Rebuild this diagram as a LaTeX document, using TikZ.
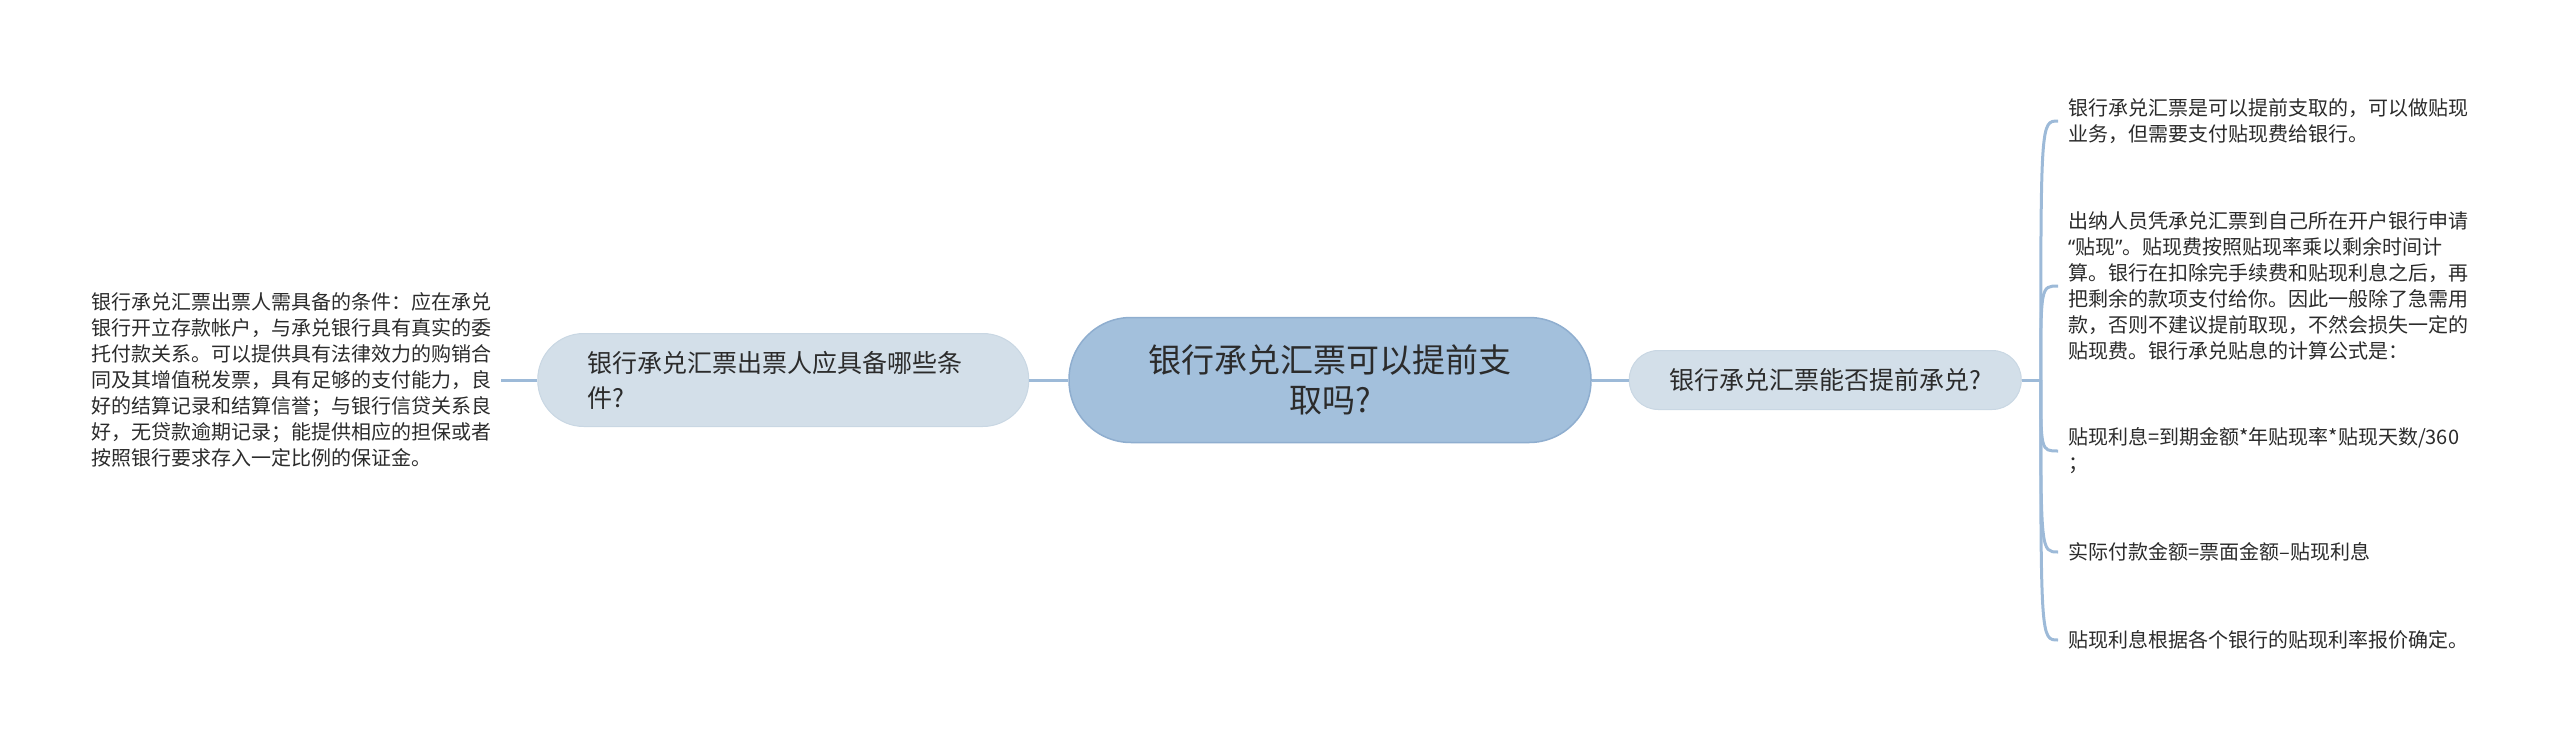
\documentclass[tikz,border=0pt]{standalone}
\usepackage{fontspec}
\setmainfont{Noto Sans CJK SC}
\newfontfamily\quotefont{Noto Sans}
\usetikzlibrary{positioning}
\definecolor{rootfill}{HTML}{A3C0DC}
\definecolor{rootline}{HTML}{8FAECF}
\definecolor{subfill}{HTML}{D3DFE9}
\definecolor{subline}{HTML}{C9D7E3}
\definecolor{linkcol}{HTML}{9DBAD8}
\definecolor{txt}{HTML}{2B2B2B}
\begin{document}
\begin{tikzpicture}[x=1pt,y=-1pt,
  root/.style={draw=rootline,line width=1.5pt,fill=rootfill,rounded corners=62pt,
    minimum width=522pt,minimum height=125pt,align=center,text=txt,
    font=\fontsize{33}{40}\selectfont},
  topic/.style={draw=subline,line width=1pt,fill=subfill,align=left,text=txt,
    font=\fontsize{25}{35}\selectfont},
  leaf/.style={inner xsep=10pt,inner ysep=0pt,align=left,text=txt,
    font=\fontsize{20}{26}\selectfont},
  linkline/.style={draw=linkcol,line width=3pt}]
\useasboundingbox (0,0) rectangle (2560,747);
\node[root] (q) at (1330,380) {银行承兑汇票可以提前支\\取吗?};
\node[topic,rounded corners=46pt,minimum width=491pt,minimum height=93pt,
  text width=392pt,left=39pt of q] (cond) {银行承兑汇票出票人应具备哪些条\\件?};
\node[topic,rounded corners=29pt,minimum width=392pt,minimum height=59pt,
  right=37pt of q] (acc) {银行承兑汇票能否提前承兑?};
% left leaf
\node[leaf,left=36pt of cond] (condtxt) {银行承兑汇票出票人需具备的条件：应在承兑\\银行开立存款帐户，与承兑银行具有真实的委\\托付款关系。可以提供具有法律效力的购销合\\同及其增值税发票，具有足够的支付能力，良\\好的结算记录和结算信誉；与银行信贷关系良\\好，无贷款逾期记录；能提供相应的担保或者\\按照银行要求存入一定比例的保证金。};
% right leaves
\coordinate[right=19pt of acc] (fork);
\node[leaf,anchor=west] (r1) at (2058,121) {银行承兑汇票是可以提前支取的，可以做贴现\\业务，但需要支付贴现费给银行。};
\node[leaf,anchor=west] (r2) at (2058,286) {出纳人员凭承兑汇票到自己所在开户银行申请\\{\quotefont “}贴现{\quotefont ”}。贴现费按照贴现率乘以剩余时间计\\算。银行在扣除完手续费和贴现利息之后，再\\把剩余的款项支付给你。因此一般除了急需用\\款，否则不建议提前取现，不然会损失一定的\\贴现费。银行承兑贴息的计算公式是：};
\node[leaf,anchor=west] (r3) at (2058,451) {贴现利息=到期金额*年贴现率*贴现天数/360\\；};
\node[leaf,anchor=west] (r4) at (2058,552) {实际付款金额=票面金额–贴现利息};
\node[leaf,anchor=west] (r5) at (2058,640) {贴现利息根据各个银行的贴现利率报价确定。};
\draw[linkline] (q.west) -- (cond.east);
\draw[linkline] (cond.west) -- (condtxt.east);
\draw[linkline] (q.east) -- (acc.west);
\draw[linkline] (acc.east) -- (fork);
\foreach \n in {r1,r2,r3,r4,r5}
  \draw[linkline] (fork) .. controls (fork |- \n.west) .. (\n.west);
\end{tikzpicture}
\end{document}
